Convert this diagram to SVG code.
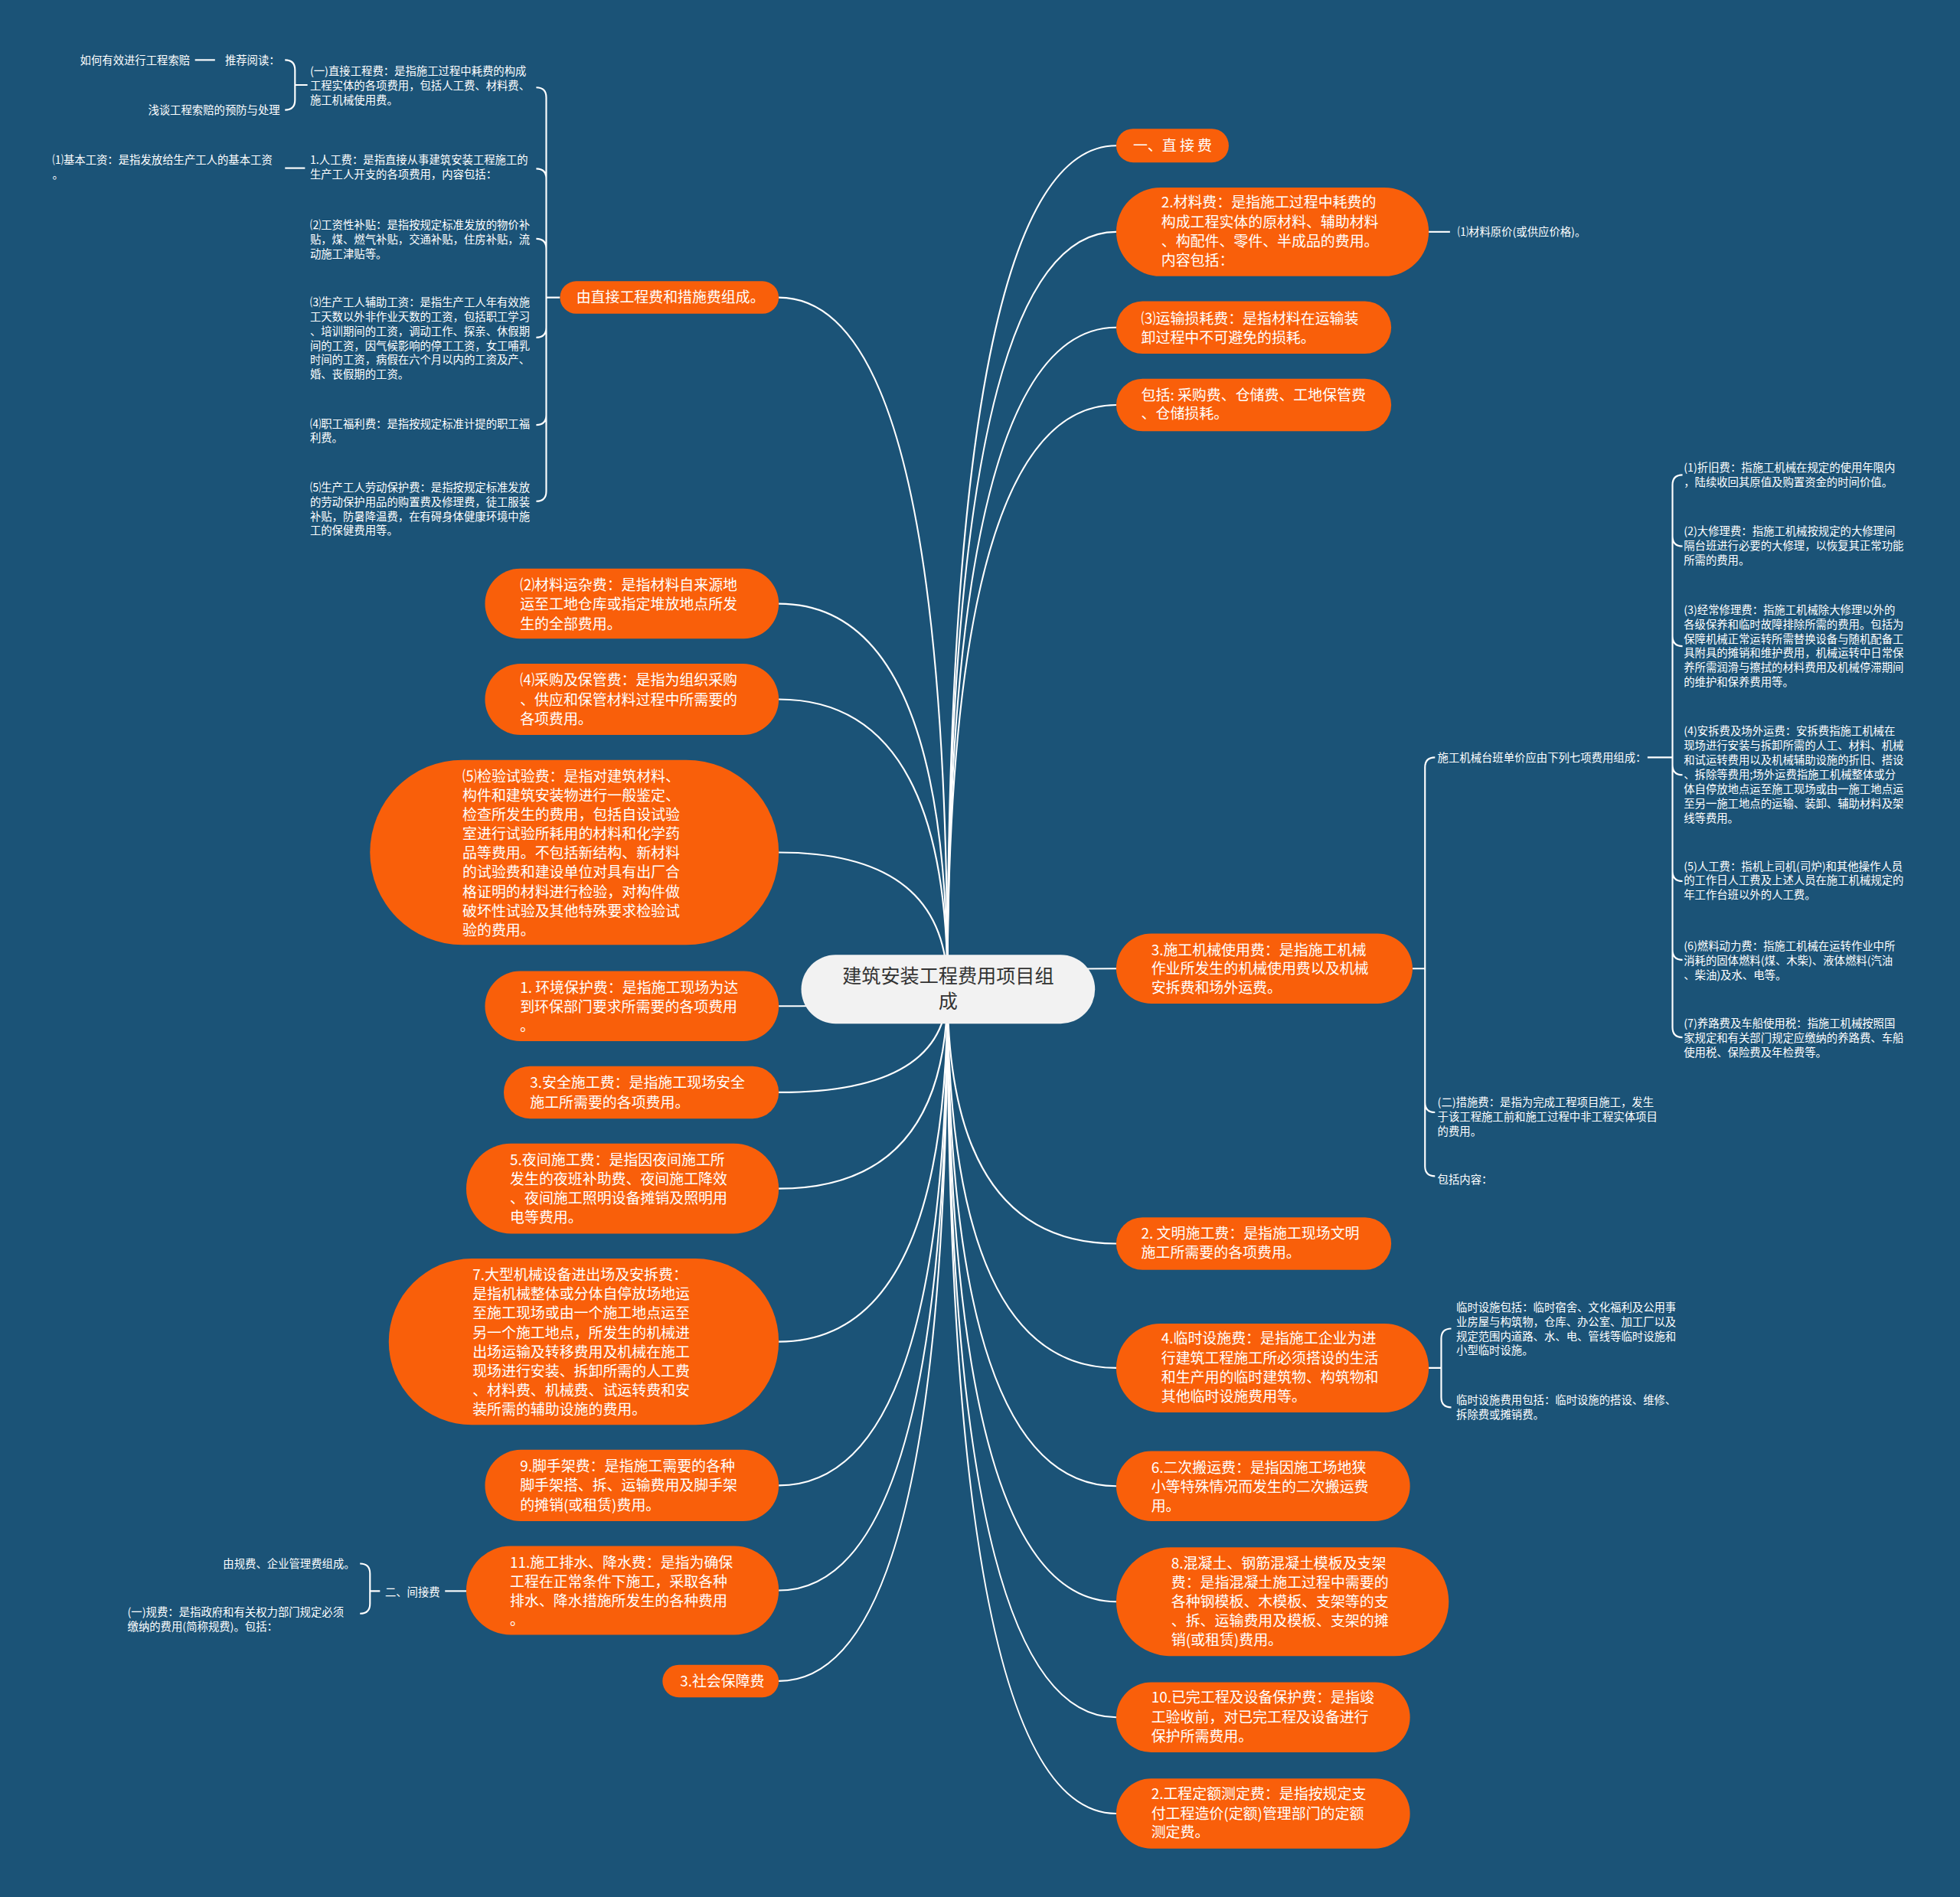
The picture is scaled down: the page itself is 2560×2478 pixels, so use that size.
<svg xmlns="http://www.w3.org/2000/svg" width="2560" height="2478" viewBox="0 0 2560 2478">
<style>
.o{fill:#f95f0a}
.t{fill:#fff;font-family:"Noto Sans CJK SC","Noto Sans",sans-serif;font-size:11.6px}
.s{fill:#fff;font-family:"Noto Sans CJK SC","Noto Sans",sans-serif;font-size:8.8px}
.e{text-anchor:end}
.ln{fill:none;stroke:#fff;stroke-width:1.3}
</style>
<rect width="2560" height="2478" fill="#1b5377"/>
<g transform="scale(1.63265)">
<g id="connectors">
<path class="ln" d="M758 791Q758 116.5 893 116.5"/>
<path class="ln" d="M758 791Q758 185.5 893 185.5"/>
<path class="ln" d="M758 791Q758 262 893 262"/>
<path class="ln" d="M758 791Q758 324 893 324"/>
<path class="ln" d="M758 791Q758 775 893 775"/>
<path class="ln" d="M758 791Q758 995 893 995"/>
<path class="ln" d="M758 791Q758 1094.5 893 1094.5"/>
<path class="ln" d="M758 791Q758 1189 893 1189"/>
<path class="ln" d="M758 791Q758 1281.5 893 1281.5"/>
<path class="ln" d="M758 791Q758 1374 893 1374"/>
<path class="ln" d="M758 791Q758 1451 893 1451"/>
<path class="ln" d="M758 791Q758 238 623 238"/>
<path class="ln" d="M758 791Q758 483 623 483"/>
<path class="ln" d="M758 791Q758 559.5 623 559.5"/>
<path class="ln" d="M758 791Q758 682 623 682"/>
<path class="ln" d="M758 791Q758 805 623 805"/>
<path class="ln" d="M758 791Q758 874 623 874"/>
<path class="ln" d="M758 791Q758 951 623 951"/>
<path class="ln" d="M758 791Q758 1073.5 623 1073.5"/>
<path class="ln" d="M758 791Q758 1188.5 623 1188.5"/>
<path class="ln" d="M758 791Q758 1272.5 623 1272.5"/>
<path class="ln" d="M758 791Q758 1345 623 1345"/>
<!-- R2 child -->
<path class="ln" d="M1143 185.5H1160"/>
<!-- R5 bracket -->
<path class="ln" d="M1130 775H1140M1140 775V614Q1140 606 1148 606M1140 775V882Q1140 890 1148 890M1140 775V933Q1140 941 1148 941"/>
<!-- seven items bracket -->
<path class="ln" d="M1318 606H1338M1338 606V388Q1338 380 1346 380M1338 606V429Q1338 437 1346 437M1338 606V509Q1338 517 1346 517M1338 606V612Q1338 620 1346 620M1338 606V697Q1338 705 1346 705M1338 606V760Q1338 768 1346 768M1338 606V822Q1338 830 1346 830"/>
<!-- R7 bracket -->
<path class="ln" d="M1143 1094.5H1153M1153 1094.5V1071Q1153 1063 1161 1063M1153 1094.5V1118Q1153 1126 1161 1126"/>
<!-- L1 bracket -->
<path class="ln" d="M448 238H437M437 238V78Q437 70 429 70M437 238V143Q437 135 429 135M437 238V199Q437 191 429 191M437 238V262Q437 270 429 270M437 238V332Q437 340 429 340M437 238V393Q437 401 429 401"/>
<!-- sub bracket of (一) -->
<path class="ln" d="M246 68H236M236 68V56Q236 48 228 48M236 68V80Q236 88 228 88"/>
<path class="ln" d="M156 48H172"/>
<path class="ln" d="M228 134.5H244"/>
<!-- L10 -->
<path class="ln" d="M373 1273H356"/>
<path class="ln" d="M304 1273H296M296 1273V1259Q296 1251 288 1251M296 1273V1283Q296 1291 288 1291"/>
</g>

<g id="center">
<rect x="641" y="764" width="235" height="55" rx="27.5" fill="#f2f2f2"/>
<text x="758.5" y="786.6" text-anchor="middle" font-family="'Noto Sans CJK SC','Noto Sans',sans-serif" font-size="15.4" fill="#333">建筑安装工程费用项目组</text>
<text x="758.5" y="806.6" text-anchor="middle" font-family="'Noto Sans CJK SC','Noto Sans',sans-serif" font-size="15.4" fill="#333">成</text>
</g>

<g id="r1"><rect class="o" x="893" y="103" width="90" height="27" rx="13.5"/><text class="t" x="938" y="120.8" text-anchor="middle" font-size="12.4">一、直 接 费</text></g>
<g id="r2"><rect class="o" x="893" y="150" width="250" height="71" rx="35.5"/><text class="t"><tspan x="929" y="166.2">2.材料费：是指施工过程中耗费的</tspan><tspan x="929" y="181.7">构成工程实体的原材料、辅助材料</tspan><tspan x="929" y="197.2">、构配件、零件、半成品的费用。</tspan><tspan x="929" y="212.7">内容包括：</tspan></text></g>
<g id="r2a"><text class="s" x="1166" y="188.7">⑴材料原价(或供应价格)。</text></g>
<g id="r3"><rect class="o" x="893" y="241" width="220" height="42" rx="21"/><text class="t"><tspan x="913" y="259.2">⑶运输损耗费：是指材料在运输装</tspan><tspan x="913" y="274.2">卸过程中不可避免的损耗。</tspan></text></g>
<g id="r4"><rect class="o" x="893" y="303" width="220" height="42" rx="21"/><text class="t"><tspan x="913" y="320.2">包括: 采购费、仓储费、工地保管费</tspan><tspan x="913" y="335.2">、仓储损耗。</tspan></text></g>
<g id="r5"><rect class="o" x="893" y="747" width="237" height="56" rx="28"/><text class="t"><tspan x="921" y="764.2">3.施工机械使用费：是指施工机械</tspan><tspan x="921" y="779.2">作业所发生的机械使用费以及机械</tspan><tspan x="921" y="794.2">安拆费和场外运费。</tspan></text></g>
<g id="r5a"><text class="s" x="1150" y="609.2">施工机械台班单价应由下列七项费用组成：</text></g>
<g id="r5a1"><text class="s"><tspan x="1347" y="377.2">(1)折旧费：指施工机械在规定的使用年限内</tspan><tspan x="1347" y="388.7">，陆续收回其原值及购置资金的时间价值。</tspan></text></g>
<g id="r5a2"><text class="s"><tspan x="1347" y="428.2">(2)大修理费：指施工机械按规定的大修理间</tspan><tspan x="1347" y="439.7">隔台班进行必要的大修理，以恢复其正常功能</tspan><tspan x="1347" y="451.2">所需的费用。</tspan></text></g>
<g id="r5a3"><text class="s"><tspan x="1347" y="491.2">(3)经常修理费：指施工机械除大修理以外的</tspan><tspan x="1347" y="502.7">各级保养和临时故障排除所需的费用。包括为</tspan><tspan x="1347" y="514.2">保障机械正常运转所需替换设备与随机配备工</tspan><tspan x="1347" y="525.7">具附具的摊销和维护费用，机械运转中日常保</tspan><tspan x="1347" y="537.2">养所需润滑与擦拭的材料费用及机械停滞期间</tspan><tspan x="1347" y="548.7">的维护和保养费用等。</tspan></text></g>
<g id="r5a4"><text class="s"><tspan x="1347" y="588.2">(4)安拆费及场外运费：安拆费指施工机械在</tspan><tspan x="1347" y="599.8">现场进行安装与拆卸所需的人工、材料、机械</tspan><tspan x="1347" y="611.4">和试运转费用以及机械辅助设施的折旧、搭设</tspan><tspan x="1347" y="623">、拆除等费用;场外运费指施工机械整体或分</tspan><tspan x="1347" y="634.6">体自停放地点运至施工现场或由一施工地点运</tspan><tspan x="1347" y="646.2">至另一施工地点的运输、装卸、辅助材料及架</tspan><tspan x="1347" y="657.8">线等费用。</tspan></text></g>
<g id="r5a5"><text class="s"><tspan x="1347" y="696.2">(5)人工费：指机上司机(司炉)和其他操作人员</tspan><tspan x="1347" y="707.7">的工作日人工费及上述人员在施工机械规定的</tspan><tspan x="1347" y="719.2">年工作台班以外的人工费。</tspan></text></g>
<g id="r5a6"><text class="s"><tspan x="1347" y="760.2">(6)燃料动力费：指施工机械在运转作业中所</tspan><tspan x="1347" y="771.7">消耗的固体燃料(煤、木柴)、液体燃料(汽油</tspan><tspan x="1347" y="783.2">、柴油)及水、电等。</tspan></text></g>
<g id="r5a7"><text class="s"><tspan x="1347" y="822.2">(7)养路费及车船使用税：指施工机械按照国</tspan><tspan x="1347" y="833.7">家规定和有关部门规定应缴纳的养路费、车船</tspan><tspan x="1347" y="845.2">使用税、保险费及年检费等。</tspan></text></g>
<g id="r5b"><text class="s"><tspan x="1150" y="885.2">(二)措施费：是指为完成工程项目施工，发生</tspan><tspan x="1150" y="896.7">于该工程施工前和施工过程中非工程实体项目</tspan><tspan x="1150" y="908.2">的费用。</tspan></text></g>
<g id="r5c"><text class="s" x="1150" y="947.2">包括内容：</text></g>
<g id="r6"><rect class="o" x="893" y="974" width="220" height="42" rx="21"/><text class="t"><tspan x="913" y="991.2">2. 文明施工费：是指施工现场文明</tspan><tspan x="913" y="1006.2">施工所需要的各项费用。</tspan></text></g>
<g id="r7"><rect class="o" x="893" y="1059" width="250" height="71" rx="35.5"/><text class="t"><tspan x="929" y="1075.2">4.临时设施费：是指施工企业为进</tspan><tspan x="929" y="1090.7">行建筑工程施工所必须搭设的生活</tspan><tspan x="929" y="1106.2">和生产用的临时建筑物、构筑物和</tspan><tspan x="929" y="1121.7">其他临时设施费用等。</tspan></text></g>
<g id="r7a"><text class="s"><tspan x="1165" y="1049.2">临时设施包括：临时宿舍、文化福利及公用事</tspan><tspan x="1165" y="1060.7">业房屋与构筑物，仓库、办公室、加工厂以及</tspan><tspan x="1165" y="1072.2">规定范围内道路、水、电、管线等临时设施和</tspan><tspan x="1165" y="1083.7">小型临时设施。</tspan></text></g>
<g id="r7b"><text class="s"><tspan x="1165" y="1123.2">临时设施费用包括：临时设施的搭设、维修、</tspan><tspan x="1165" y="1134.7">拆除费或摊销费。</tspan></text></g>
<g id="r8"><rect class="o" x="893" y="1161" width="235" height="56" rx="28"/><text class="t"><tspan x="921" y="1178.2">6.二次搬运费：是指因施工场地狭</tspan><tspan x="921" y="1193.7">小等特殊情况而发生的二次搬运费</tspan><tspan x="921" y="1209.2">用。</tspan></text></g>
<g id="r9"><rect class="o" x="893" y="1238" width="266" height="87" rx="43.5"/><text class="t"><tspan x="937" y="1255.2">8.混凝土、钢筋混凝土模板及支架</tspan><tspan x="937" y="1270.5">费：是指混凝土施工过程中需要的</tspan><tspan x="937" y="1285.8">各种钢模板、木模板、支架等的支</tspan><tspan x="937" y="1301.2">、拆、运输费用及模板、支架的摊</tspan><tspan x="937" y="1316.5">销(或租赁)费用。</tspan></text></g>
<g id="r10"><rect class="o" x="893" y="1346" width="235" height="56" rx="28"/><text class="t"><tspan x="921" y="1362.2">10.已完工程及设备保护费：是指竣</tspan><tspan x="921" y="1378.2">工验收前，对已完工程及设备进行</tspan><tspan x="921" y="1393.2">保护所需费用。</tspan></text></g>
<g id="r11"><rect class="o" x="893" y="1423" width="235" height="56" rx="28"/><text class="t"><tspan x="921" y="1439.2">2.工程定额测定费：是指按规定支</tspan><tspan x="921" y="1455.2">付工程造价(定额)管理部门的定额</tspan><tspan x="921" y="1470.2">测定费。</tspan></text></g>

<g id="l1"><rect class="o" x="448" y="225" width="175" height="26" rx="13"/><text class="t" x="461" y="242.2">由直接工程费和措施费组成。</text></g>
<g id="l1a"><text class="s"><tspan x="248" y="60.2">(一)直接工程费：是指施工过程中耗费的构成</tspan><tspan x="248" y="71.7">工程实体的各项费用，包括人工费、材料费、</tspan><tspan x="248" y="83.2">施工机械使用费。</tspan></text></g>
<g id="l1a1"><text class="s e" x="224" y="51.2">推荐阅读：</text></g>
<g id="l1a1a"><text class="s e" x="152" y="51.2">如何有效进行工程索赔</text></g>
<g id="l1a2"><text class="s e" x="224" y="91.2">浅谈工程索赔的预防与处理</text></g>
<g id="l1b"><text class="s"><tspan x="248" y="131.2">1.人工费：是指直接从事建筑安装工程施工的</tspan><tspan x="248" y="142.7">生产工人开支的各项费用，内容包括：</tspan></text></g>
<g id="l1b1"><text class="s"><tspan x="42" y="131.2">⑴基本工资：是指发放给生产工人的基本工资</tspan><tspan x="42" y="142.7">。</tspan></text></g>
<g id="l1c"><text class="s"><tspan x="248" y="183.2">⑵工资性补贴：是指按规定标准发放的物价补</tspan><tspan x="248" y="194.7">贴，煤、燃气补贴，交通补贴，住房补贴，流</tspan><tspan x="248" y="206.2">动施工津贴等。</tspan></text></g>
<g id="l1d"><text class="s"><tspan x="248" y="245.2">⑶生产工人辅助工资：是指生产工人年有效施</tspan><tspan x="248" y="256.7">工天数以外非作业天数的工资，包括职工学习</tspan><tspan x="248" y="268.2">、培训期间的工资，调动工作、探亲、休假期</tspan><tspan x="248" y="279.7">间的工资，因气候影响的停工工资，女工哺乳</tspan><tspan x="248" y="291.2">时间的工资，病假在六个月以内的工资及产、</tspan><tspan x="248" y="302.7">婚、丧假期的工资。</tspan></text></g>
<g id="l1e"><text class="s"><tspan x="248" y="342.2">⑷职工福利费：是指按规定标准计提的职工福</tspan><tspan x="248" y="353.7">利费。</tspan></text></g>
<g id="l1f"><text class="s"><tspan x="248" y="393.2">⑸生产工人劳动保护费：是指按规定标准发放</tspan><tspan x="248" y="404.7">的劳动保护用品的购置费及修理费，徒工服装</tspan><tspan x="248" y="416.2">补贴，防暑降温费，在有碍身体健康环境中施</tspan><tspan x="248" y="427.7">工的保健费用等。</tspan></text></g>
<g id="l2"><rect class="o" x="388" y="455" width="235" height="56" rx="28"/><text class="t"><tspan x="416" y="472.2">⑵材料运杂费：是指材料自来源地</tspan><tspan x="416" y="487.7">运至工地仓库或指定堆放地点所发</tspan><tspan x="416" y="503.2">生的全部费用。</tspan></text></g>
<g id="l3"><rect class="o" x="388" y="531" width="235" height="57" rx="28.5"/><text class="t"><tspan x="416" y="548.2">⑷采购及保管费：是指为组织采购</tspan><tspan x="416" y="564.2">、供应和保管材料过程中所需要的</tspan><tspan x="416" y="579.2">各项费用。</tspan></text></g>
<g id="l4"><rect class="o" x="296" y="608" width="327" height="148" rx="74"/><text class="t"><tspan x="370" y="625.2">⑸检验试验费：是指对建筑材料、</tspan><tspan x="370" y="640.6">构件和建筑安装物进行一般鉴定、</tspan><tspan x="370" y="656">检查所发生的费用，包括自设试验</tspan><tspan x="370" y="671.4">室进行试验所耗用的材料和化学药</tspan><tspan x="370" y="686.8">品等费用。不包括新结构、新材料</tspan><tspan x="370" y="702.2">的试验费和建设单位对具有出厂合</tspan><tspan x="370" y="717.6">格证明的材料进行检验，对构件做</tspan><tspan x="370" y="733">破坏性试验及其他特殊要求检验试</tspan><tspan x="370" y="748.4">验的费用。</tspan></text></g>
<g id="l5"><rect class="o" x="388" y="777" width="235" height="56" rx="28"/><text class="t"><tspan x="416" y="794.2">1. 环境保护费：是指施工现场为达</tspan><tspan x="416" y="809.7">到环保部门要求所需要的各项费用</tspan><tspan x="416" y="825.2">。</tspan></text></g>
<g id="l6"><rect class="o" x="403" y="853" width="220" height="42" rx="21"/><text class="t"><tspan x="424" y="870.2">3.安全施工费：是指施工现场安全</tspan><tspan x="424" y="886.2">施工所需要的各项费用。</tspan></text></g>
<g id="l7"><rect class="o" x="373" y="915" width="250" height="72" rx="36"/><text class="t"><tspan x="408" y="932.2">5.夜间施工费：是指因夜间施工所</tspan><tspan x="408" y="947.5">发生的夜班补助费、夜间施工降效</tspan><tspan x="408" y="962.8">、夜间施工照明设备摊销及照明用</tspan><tspan x="408" y="978.2">电等费用。</tspan></text></g>
<g id="l8"><rect class="o" x="311" y="1007" width="312" height="133" rx="66.5"/><text class="t"><tspan x="378" y="1024.2">7.大型机械设备进出场及安拆费：</tspan><tspan x="378" y="1039.6">是指机械整体或分体自停放场地运</tspan><tspan x="378" y="1055">至施工现场或由一个施工地点运至</tspan><tspan x="378" y="1070.4">另一个施工地点，所发生的机械进</tspan><tspan x="378" y="1085.8">出场运输及转移费用及机械在施工</tspan><tspan x="378" y="1101.2">现场进行安装、拆卸所需的人工费</tspan><tspan x="378" y="1116.6">、材料费、机械费、试运转费和安</tspan><tspan x="378" y="1132">装所需的辅助设施的费用。</tspan></text></g>
<g id="l9"><rect class="o" x="388" y="1160" width="235" height="57" rx="28.5"/><text class="t"><tspan x="416" y="1177.2">9.脚手架费：是指施工需要的各种</tspan><tspan x="416" y="1192.7">脚手架搭、拆、运输费用及脚手架</tspan><tspan x="416" y="1208.2">的摊销(或租赁)费用。</tspan></text></g>
<g id="l10"><rect class="o" x="373" y="1237" width="250" height="71" rx="35.5"/><text class="t"><tspan x="408" y="1254.2">11.施工排水、降水费：是指为确保</tspan><tspan x="408" y="1269.5">工程在正常条件下施工，采取各种</tspan><tspan x="408" y="1284.8">排水、降水措施所发生的各种费用</tspan><tspan x="408" y="1300.2">。</tspan></text></g>
<g id="l10a"><text class="s e" x="352" y="1277.2">二、间接费</text></g>
<g id="l10a1"><text class="s e" x="284" y="1254.2">由规费、企业管理费组成。</text></g>
<g id="l10a2"><text class="s"><tspan x="102" y="1293.2">(一)规费：是指政府和有关权力部门规定必须</tspan><tspan x="102" y="1304.7">缴纳的费用(简称规费)。包括：</tspan></text></g>
<g id="l11"><rect class="o" x="530" y="1332" width="93" height="26" rx="13"/><text class="t" x="544" y="1349.2">3.社会保障费</text></g>
</g>
</svg>
